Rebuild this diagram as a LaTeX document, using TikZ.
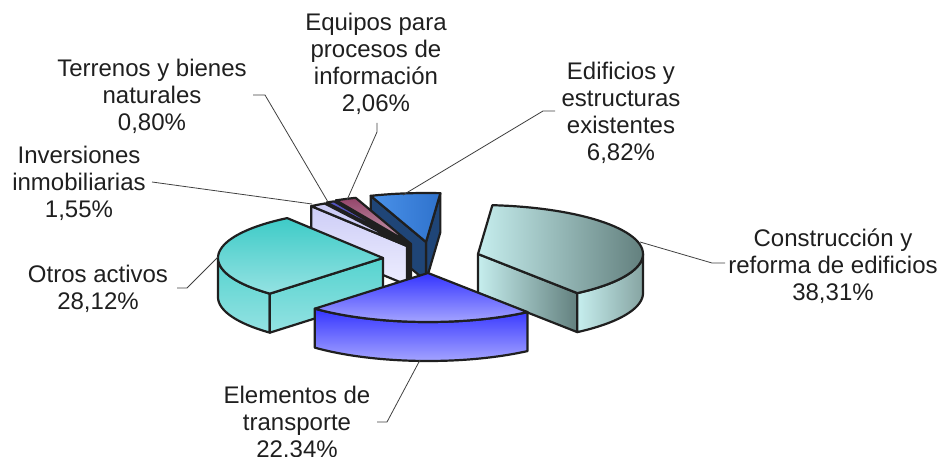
\documentclass[tikz,border=0pt]{standalone}
\usepackage{fontspec}
\setmainfont{Liberation Sans}
\definecolor{cnA}{HTML}{C6EEEE}
\definecolor{cnB}{HTML}{63807E}
\definecolor{cnC}{HTML}{86A4A2}
\definecolor{otA}{HTML}{3ECBC7}
\definecolor{otB}{HTML}{94E2E2}
\definecolor{otC}{HTML}{55D3CF}
\definecolor{elA}{HTML}{3434FF}
\definecolor{elB}{HTML}{A4A4FF}
\definecolor{edA}{HTML}{4A92EA}
\definecolor{edB}{HTML}{2F72CC}
\definecolor{edS}{HTML}{1F4577}
\definecolor{eqA}{HTML}{94456A}
\definecolor{eqB}{HTML}{C9A2B4}
\definecolor{eqS}{HTML}{4A2A3A}
\definecolor{teA}{HTML}{5454C0}
\definecolor{inA}{HTML}{CDCDF6}
\definecolor{inB}{HTML}{EEEEFF}
\newcommand\Tp[3]{({#1+165*cos(#3)},{#2-49*sin(#3)})}
\newcommand\Bt[3]{({#1+165*cos(#3)},{#2-49*sin(#3)+39})}
% radial face: px py angle style
\newcommand\radface[4]{\path[#4] (#1,#2) -- \Tp{#1}{#2}{#3} -- \Bt{#1}{#2}{#3} -- (#1,#2+39) -- cycle;}
% outer face: px py a b style
\newcommand\outface[5]{\path[#5] plot[domain=#3:#4,samples=40] ({#1+165*cos(\x)},{#2-49*sin(\x)}) -- plot[domain=#4:#3,samples=40] ({#1+165*cos(\x)},{#2-49*sin(\x)+39}) -- cycle;}
% top face: px py a b style
\newcommand\topface[5]{\path[#5] (#1,#2) -- plot[domain=#3:#4,samples=50] ({#1+165*cos(\x)},{#2-49*sin(\x)}) -- cycle;}
\begin{document}
\begin{tikzpicture}[x=1pt,y=-1pt,line join=round,
  edge/.style={draw=black!88,line width=2.2pt},
  lead/.style={draw=black!75,line width=0.8pt},
  lbl/.style={align=center,inner sep=0pt,font=\fontsize{24}{27}\selectfont,text=black!88}]
\useasboundingbox (0,0) rectangle (948,457);
% Edificios y estructuras existentes
\radface{426}{242}{85}{edge,fill=edS}
\radface{426}{242}{109.6}{edge,fill=edS}
\topface{426}{242}{85}{109.6}{edge,left color=edA,right color=edB}
% Equipos para procesos de informacion
\radface{411}{244}{117}{edge,fill=eqS}
\topface{411}{244}{109.6}{117}{edge,top color=eqA,bottom color=eqB}
% Terrenos y bienes naturales
\radface{409}{245}{119.9}{edge,fill=eqS}
\topface{409}{245}{117}{119.9}{edge,fill=teA}
% Inversiones inmobiliarias
\radface{407}{246}{125.5}{edge,top color=inA,bottom color=inB}
\topface{407}{246}{119.9}{125.5}{edge,fill=inA}
% Otros activos
\outface{383}{258}{180}{226.7}{edge,top color=otC,bottom color=otB}
\radface{383}{258}{226.7}{edge,top color=otC,bottom color=otB}
\topface{383}{258}{125.5}{226.7}{edge,top color=otA,bottom color=otB}
% Construccion y reforma de edificios
\radface{478}{254}{-53}{edge,left color=cnA,right color=cnB}
\outface{478}{254}{-53}{0}{edge,left color=cnA,right color=cnC}
\topface{478}{254}{-53}{85}{edge,left color=cnA,right color=cnB}
% Elementos de transporte
\outface{428}{273}{226.7}{307.1}{edge,top color=elA,bottom color=elB}
\topface{428}{273}{226.7}{307.1}{edge,top color=elA,bottom color=elB}
% labels
\node[lbl] (lEq) at (376,64) {Equipos para\\procesos de\\información\\2,06\%};
\node[lbl] (lTe) at (152,96) {Terrenos y bienes\\naturales\\0,80\%};
\node[lbl] (lIn) at (79,183) {Inversiones\\inmobiliarias\\1,55\%};
\node[lbl] (lEd) at (621,113) {Edificios y\\estructuras\\existentes\\6,82\%};
\node[lbl] (lCo) at (833,266) {Construcción y\\reforma de edificios\\38,31\%};
\node[lbl] (lOt) at (98,289) {Otros activos\\28,12\%};
\node[lbl] (lEl) at (297,423) {Elementos de\\transporte\\22,34\%};
% leader points
\coordinate (sCo) at (640,242); \coordinate (bCo) at (712,263); \coordinate (kCo) at (725,263);
\coordinate (sEd) at (403,195); \coordinate (bEd) at (543,111); \coordinate (kEd) at (555,111);
\coordinate (sEq) at (347,200); \coordinate (bEq) at (377,132); \coordinate (kEq) at (377,123);
\coordinate (sTe) at (328,202); \coordinate (bTe) at (265,95); \coordinate (kTe) at (253,95);
\coordinate (sIn) at (312,204); \coordinate (kIn) at (152,182);
\coordinate (sOt) at (218,257); \coordinate (bOt) at (187,288); \coordinate (kOt) at (177,288);
\coordinate (sEl) at (420,360); \coordinate (bEl) at (387,422); \coordinate (kEl) at (377,422);
\draw[lead] (sCo) -- (bCo) -- (kCo);
\draw[lead] (sEd) -- (bEd) -- (kEd);
\draw[lead] (sEq) -- (bEq) -- (kEq);
\draw[lead] (sTe) -- (bTe) -- (kTe);
\draw[lead] (sIn) -- (kIn);
\draw[lead] (sOt) -- (bOt) -- (kOt);
\draw[lead] (sEl) -- (bEl) -- (kEl);
\end{tikzpicture}
\end{document}
